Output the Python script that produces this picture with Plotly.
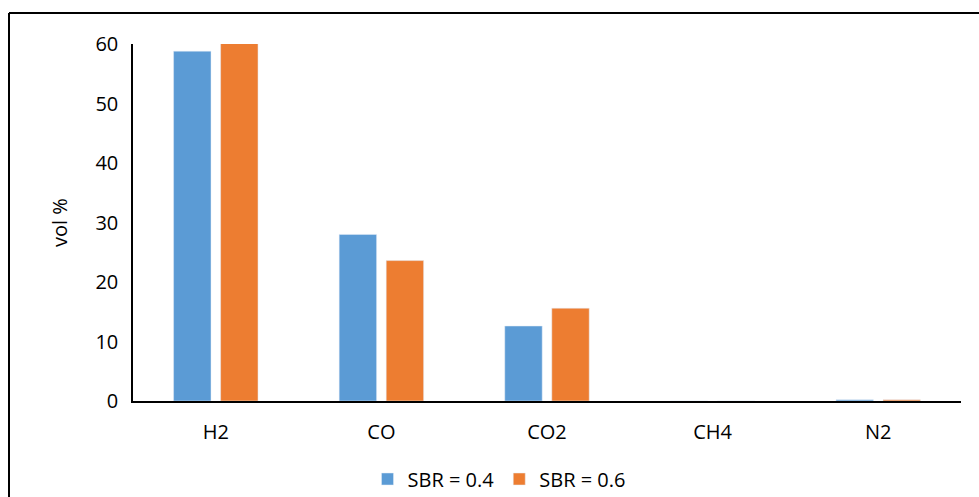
import plotly.graph_objects as go

# Syngas composition for two steam-to-biomass ratios
gases = ["H2", "CO", "CO2", "CH4", "N2"]
sbr_04 = [58.8, 28.0, 12.6, 0.0, 0.2]
sbr_06 = [60.1, 23.6, 15.6, 0.0, 0.2]
y_ticks = [0, 10, 20, 30, 40, 50, 60]

FONT = "Open Sans"
FS = 20
W, H = 979, 497
L, R, T, B = 133, 18, 44, 96

fig = go.Figure()
fig.add_trace(go.Bar(x=gases, y=sbr_04, name="SBR = 0.4", marker_color="#5B9BD5"))
fig.add_trace(go.Bar(x=gases, y=sbr_06, name="SBR = 0.6", marker_color="#ED7D31"))

pw = W - L - R
ph = H - T - B

def px_x(p):
    return (p - L) / pw

def px_y(p):
    return (H - B - p) / ph

# outer chart frame (left and top edges)
frame = dict(color="#000000", width=2)
fig.add_shape(type="line", xref="paper", yref="paper",
              x0=px_x(9), x1=px_x(9), y0=px_y(H + 5), y1=px_y(13), line=frame)
fig.add_shape(type="line", xref="paper", yref="paper",
              x0=px_x(9), x1=px_x(W + 5), y0=px_y(13), y1=px_y(13), line=frame)

fig.update_layout(
    width=W, height=H,
    margin=dict(l=L, r=R, t=T, b=B, autoexpand=False),
    paper_bgcolor="white", plot_bgcolor="white",
    font=dict(family=FONT, size=FS, color="#000000"),
    barmode="group", bargap=0.432, bargroupgap=0.204,
    showlegend=True,
    legend=dict(orientation="h", xref="container", yref="container",
                x=499 / W, xanchor="center", y=(H - 479) / H, yanchor="middle",
                font=dict(size=FS), traceorder="normal"),
)
fig.update_xaxes(showline=True, linecolor="#000000", linewidth=1.5, showgrid=False,
                 ticks="", ticklabelstandoff=12, zeroline=False, automargin=False)
fig.update_yaxes(range=[0, 60], tickvals=y_ticks, showline=True, linecolor="#000000",
                 linewidth=1.5, showgrid=False, zeroline=False, ticks="",
                 ticklabelstandoff=9, automargin=False,
                 title=dict(text="vol %", standoff=22, font=dict(size=FS)))

fig.write_html("out.html")
